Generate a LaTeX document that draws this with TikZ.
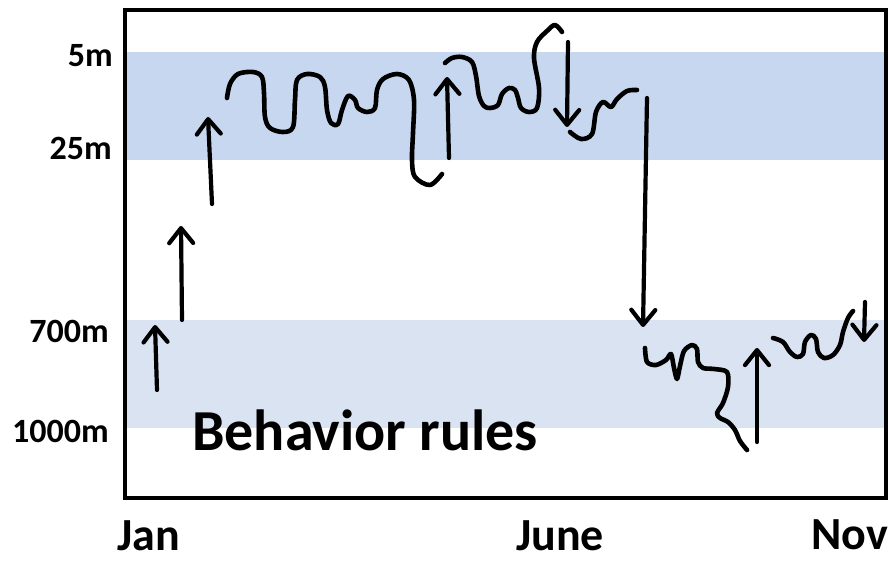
\documentclass[tikz,border=0pt]{standalone}
\usepackage{fontspec}
\setmainfont{Carlito}
\usetikzlibrary{arrows.meta}

\definecolor{shallowband}{HTML}{C6D7EF}
\definecolor{deepband}{HTML}{DAE3F2}

\tikzset{
  track/.style={line width=4.6pt, line cap=round, line join=round},
  move/.style={line width=4.2pt, line cap=round,
    -{Straight Barb[length=15pt,width=24pt,line cap=round,line join=round]}},
  depthlabel/.style={anchor=base east, inner sep=0pt, text depth=0pt,
    font=\fontsize{34}{34}\selectfont\bfseries},
  monthlabel/.style={anchor=base, inner sep=0pt, text depth=0pt,
    font=\fontsize{46}{46}\selectfont\bfseries},
  title/.style={anchor=base west, inner sep=0pt, text depth=0pt,
    font=\fontsize{58}{58}\selectfont\bfseries}
}

\begin{document}
\begin{tikzpicture}[x=1pt, y=-1pt]
\useasboundingbox (0,0) rectangle (889,561);

% depth bands
\fill[shallowband] (125,52) rectangle (886,160);
\fill[deepband] (125,320) rectangle (886,428);

% chart frame
\draw[line width=4pt] (125,10) rectangle (886,498);

% depth labels
\node[depthlabel] (d5) at (113,67) {5m};
\node[depthlabel] (d25) at (112,160) {25m};
\node[depthlabel] (d700) at (109,342) {700m};
\node[depthlabel] (d1000) at (109,442) {1000m};

% month labels
\node[monthlabel] (jan) at (149,550) {Jan};
\node[monthlabel] (june) at (560,550) {June};
\node[monthlabel] (nov) at (850,549) {Nov};

\node[title] (rules) at (192,450) {Behavior rules};

% ascent from depth
\draw[move] (157,390) -- (155,325);
\draw[move] (182,320) -- (181,226);
\draw[move] (212,204) -- (208,117);

% shallow-water track, first stretch
\draw[track] plot[smooth, tension=0.55] coordinates {
  (227,98) (230,84) (238,74) (253,72) (262,77) (264,93) (265,117)
  (270,128) (283,132) (293,127) (295,100) (297,80) (307,74) (320,77)
  (325,87) (327,110) (331,123) (338,124) (342,110) (348,96) (355,100)
  (358,108) (367,112) (375,108) (377,90) (383,79) (397,74) (409,80)
  (414,100) (413,133) (412,160) (415,177) (430,185) (442,174)};

\draw[move] (449,158) -- (447,77);

% shallow-water track, second stretch
\draw[track] plot[smooth, tension=0.55] coordinates {
  (445,63) (452,58) (462,57) (472,62) (476,76) (479,96) (484,106)
  (490,108) (498,105) (502,94) (509,88) (515,90) (518,98) (521,108)
  (529,112) (537,108) (539,88) (534,58) (537,42) (547,31) (555,25)
  (562,32)};

\draw[move] (568,42) -- (567,127);

% shallow-water track, third stretch
\draw[track] plot[smooth, tension=0.55] coordinates {
  (570,132) (581,139) (592,134) (596,112) (603,102) (611,107)
  (617,99) (627,91) (637,90)};

% descent to depth
\draw[move] (647,98) -- (643,327);

% deep-water track, first stretch
\draw[track] plot[smooth, tension=0.5] coordinates {
  (645,348) (647,362) (656,365) (666,360) (671,354) (674,368)
  (677,379) (680,366) (684,351) (692,345) (697,349) (698,362)
  (703,368) (714,369) (727,372) (728,387) (723,403) (717,413)
  (720,418) (728,422) (735,430) (740,441) (747,450)};

\draw[move] (757,442) -- (757,348);

% deep-water track, second stretch
\draw[track] plot[smooth, tension=0.55] coordinates {
  (773,338) (783,342) (790,352) (797,357) (803,354) (805,342)
  (811,335) (816,339) (818,352) (824,358) (833,355) (840,345)
  (843,332) (848,318) (853,311)};

\draw[move] (865,302) -- (864,342);
\end{tikzpicture}
\end{document}
